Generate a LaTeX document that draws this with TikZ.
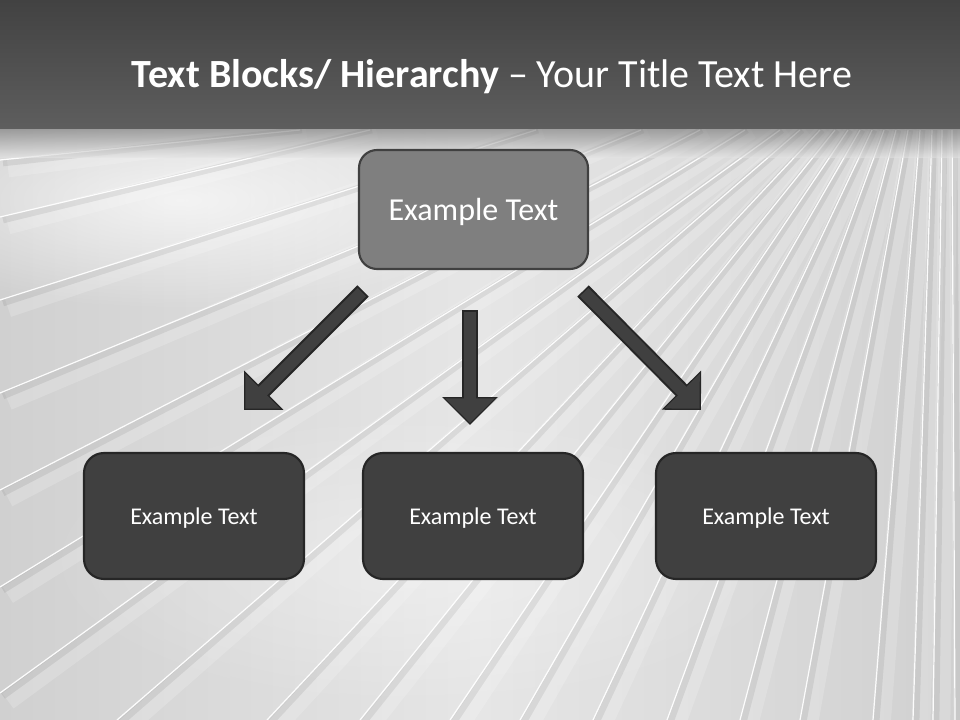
\documentclass[tikz,border=0pt]{standalone}
\usepackage{fontspec}
\setmainfont{Carlito}
\usetikzlibrary{arrows.meta,fadings}
\tikzfading[name=softout, inner color=transparent!0, outer color=transparent!100]
\definecolor{bandtop}{HTML}{424242}
\definecolor{bandbot}{HTML}{5E5E5E}
\definecolor{bgl}{HTML}{D0D0D0}
\definecolor{bgm}{HTML}{E6E6E6}
\definecolor{topfill}{HTML}{7F7F7F}
\definecolor{topedge}{HTML}{404040}
\definecolor{boxfill}{HTML}{404040}
\definecolor{boxedge}{HTML}{262626}
\tikzset{
  topbox/.style={draw=topedge, line width=1.6pt, fill=topfill, rounded corners=13.5pt,
    minimum width=171.75pt, minimum height=89.25pt, text=white, font=\fontsize{24}{28}\selectfont, inner sep=0pt},
  lowbox/.style={draw=boxedge, line width=1.6pt, fill=boxfill, rounded corners=15pt,
    minimum width=165pt, minimum height=94.5pt, text=white, font=\fontsize{18}{22}\selectfont, inner sep=0pt},
  arrowout/.style={draw=boxedge, line width=12pt, -{Triangle[length=21pt,width=40.5pt]}},
  arrowin/.style={draw=boxfill, line width=9pt, -{Triangle[length=18.5pt,width=36pt]}},
  streak/.style={white, line width=0.9pt, opacity=0.95},
  groove/.style={black, line width=5pt, opacity=0.07},
  ridge/.style={white, line width=14pt, opacity=0.18}
}
\begin{document}
\begin{tikzpicture}[x=0.75pt,y=-0.75pt]
\useasboundingbox (0,0) rectangle (960,720);
% background
\shade[left color=bgl, right color=bgl, middle color=bgm] (0,120) rectangle (960,720);
\begin{scope}
  \clip (0,128) rectangle (960,720);
  \fill[white, opacity=0.7, path fading=softout] (180,200) ellipse (330 and 110);
  \fill[white, opacity=0.35, path fading=softout] (420,560) ellipse (380 and 150);
  \foreach \tx/\bx/\by in {300/0/160, 370/0/217, 536/0/300, 641/0/393, 700/0/490, 745/0/587, 780/0/693,
      800/117/720, 820/267/720, 835/360/720, 848/450/720, 860/520/720, 872/593/720, 884/667/720,
      896/740/720, 908/800/720, 920/873/720, 932/913/720, 942/933/720, 952/955/720}{
    \draw[ridge] (\tx+6,130) -- (\bx+8,\by+8);
    \draw[groove] (\tx+2,130) -- (\bx+3,\by+3);
    \draw[streak] (\tx,130) -- (\bx,\by);
  }
  \shade[top color=black!60, bottom color=bgm, opacity=0.55] (0,128) rectangle (960,158);
\end{scope}
% title band
\shade[top color=bandtop, bottom color=bandbot] (0,0) rectangle (960,129);
\node[anchor=base, text=white, font=\fontsize{30}{36}\selectfont, inner sep=0pt] (title) at (492,88)
  {\textbf{Text Blocks/ Hierarchy} – Your Title Text Here};
% boxes
\node[topbox] (top) at (473.5,209.5) {\raisebox{-8.6pt}[0pt][0pt]{Example Text}};
\node[lowbox] (b1) at (194,516) {\raisebox{-6pt}[0pt][0pt]{Example Text}};
\node[lowbox] (b2) at (473,516) {\raisebox{-6pt}[0pt][0pt]{Example Text}};
\node[lowbox] (b3) at (766,516) {\raisebox{-6pt}[0pt][0pt]{Example Text}};
% arrows
\coordinate (s1) at (363,291);
\coordinate (e1) at (244,410);
\coordinate (s2) at (470,310);
\coordinate (e2) at (470,425);
\coordinate (s3) at (583,291);
\coordinate (e3) at (701,410);
\foreach \s/\e in {s1/e1,s2/e2,s3/e3}{
  \draw[arrowout] (\s) -- (\e);
  \draw[arrowin, shorten <=1.2pt, shorten >=1.5pt] (\s) -- (\e);
}
\end{tikzpicture}
\end{document}
